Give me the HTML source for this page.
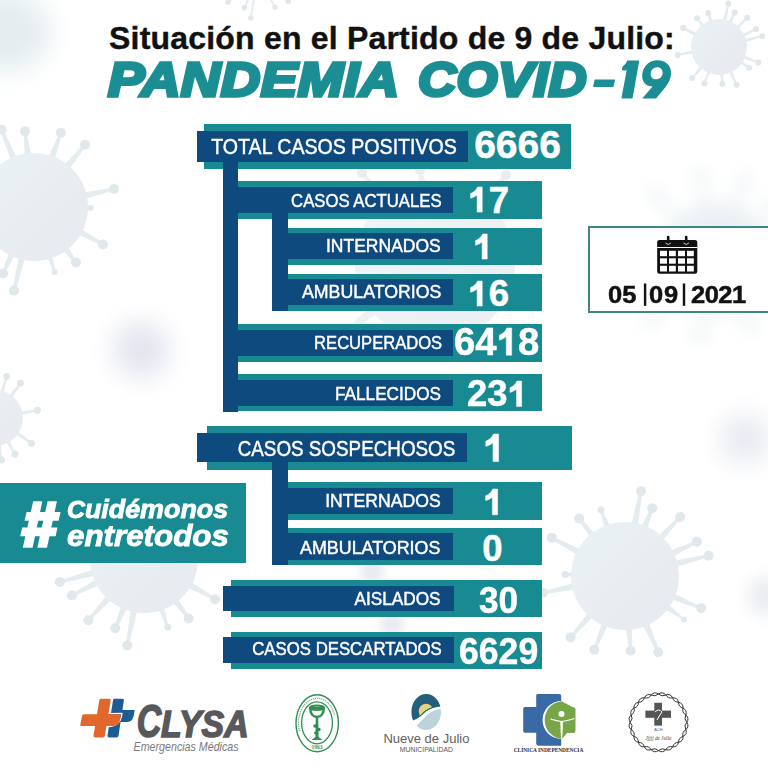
<!DOCTYPE html>
<html><head><meta charset="utf-8">
<style>

*{margin:0;padding:0;box-sizing:border-box}
html,body{width:768px;height:768px;overflow:hidden;background:#fff}
body{position:relative;font-family:"Liberation Sans",sans-serif}
.a{position:absolute;white-space:nowrap}
.t{background:#188a91;position:absolute}
.d{background:#0f4a7f;position:absolute}
.lb{position:absolute;color:#fff;white-space:nowrap;text-align:right;-webkit-text-stroke:0.45px #fff;transform-origin:100% 50%}
.n{position:absolute;color:#fff;white-space:nowrap;font-weight:bold;-webkit-text-stroke:0.5px #fff}
.o{display:inline-block;width:0.556em;height:0.688em;vertical-align:baseline}
.o svg{display:block;width:100%;height:100%;overflow:visible}
svg.abs{position:absolute;left:0;top:0}
.t2{top:51px;font-size:49px;line-height:56px;font-weight:bold;font-style:italic;color:#1a8e93;letter-spacing:0.45px;-webkit-text-stroke:3.5px #1a8e93;transform-origin:0 50%}
.hs{font-weight:bold;font-style:italic;color:#fff;-webkit-text-stroke:0.9px #fff;transform-origin:0 50%}
.dt{font-size:24.5px;line-height:24.5px;font-weight:bold;color:#111;-webkit-text-stroke:0.5px #111;top:283.16px;transform-origin:0 50%;transform:scaleX(1.04)}

</style></head><body>
<!-- BG -->
<svg class="abs" width="768" height="768" viewBox="0 0 768 768">
<defs><filter id="bl8" x="-1" y="-1" width="3" height="3"><feGaussianBlur stdDeviation="9"/></filter><filter id="bl12" x="-1" y="-1" width="3" height="3"><feGaussianBlur stdDeviation="13"/></filter><filter id="bl4" x="-1" y="-1" width="3" height="3"><feGaussianBlur stdDeviation="4"/></filter><linearGradient id="vg" x1="0" y1="0" x2="1" y2="1"><stop offset="0" stop-color="#eaf2f4"/><stop offset="1" stop-color="#e7e9ef"/></linearGradient><filter id="bl2" x="-1" y="-1" width="3" height="3"><feGaussianBlur stdDeviation="0.7"/></filter></defs>
<ellipse cx="8" cy="32" rx="42" ry="40" fill="#e5edf0" filter="url(#bl12)"/>
<circle cx="141" cy="350" r="28" fill="#e3e5ef" filter="url(#bl12)"/>
<circle cx="745" cy="439" r="24" fill="#e6e9f0" filter="url(#bl12)"/>
<circle cx="372" cy="572" r="12" fill="#e8ebf1" filter="url(#bl4)"/>
<circle cx="392" cy="624" r="12" fill="#e8ebf1" filter="url(#bl4)"/>
<circle cx="766" cy="596" r="18" fill="#e8ebf0" filter="url(#bl8)"/>
<g filter="url(#bl8)" opacity="0.9"><g opacity="1.0">
<polygon fill="#e5ecef" points="685.3,221.7 656.3,193.8 653.7,196.2 680.2,226.6"/>
<circle cx="655.0" cy="195.0" r="6" fill="#e1e8ec"/>
<polygon fill="#e5ecef" points="710.2,211.4 701.8,174.7 698.2,175.3 703.2,212.6"/>
<circle cx="700.0" cy="175.0" r="6" fill="#e1e8ec"/>
<polygon fill="#e5ecef" points="735.1,215.6 746.7,180.6 743.3,179.4 728.4,213.1"/>
<circle cx="745.0" cy="180.0" r="6" fill="#e1e8ec"/>
<polygon fill="#e5ecef" points="752.4,229.7 776.2,206.3 773.8,203.7 747.7,224.4"/>
<circle cx="775.0" cy="205.0" r="6" fill="#e1e8ec"/>
<polygon fill="#e5ecef" points="678.7,287.7 648.8,318.7 651.2,321.3 683.6,292.9"/>
<circle cx="650.0" cy="320.0" r="6" fill="#e1e8ec"/>
<polygon fill="#e5ecef" points="702.6,303.2 698.2,334.7 701.8,335.3 709.6,304.6"/>
<circle cx="700.0" cy="335.0" r="6" fill="#e1e8ec"/>
<polygon fill="#e5ecef" points="733.5,301.1 748.4,325.8 751.6,324.2 739.8,297.8"/>
<circle cx="750.0" cy="325.0" r="6" fill="#e1e8ec"/>
<circle cx="715" cy="258" r="55" fill="url(#vg)"/>
</g></g>
<g opacity="1.0" filter="url(#bl2)">
<polygon fill="#e5ecef" points="32.1,161.0 26.5,131.1 23.5,131.5 25.1,161.8"/>
<circle cx="25.0" cy="131.3" r="5" fill="#e1e8ec"/>
<polygon fill="#e5ecef" points="52.9,165.0 62.3,133.3 59.5,132.3 46.3,162.7"/>
<circle cx="60.9" cy="132.8" r="5" fill="#e1e8ec"/>
<polygon fill="#e5ecef" points="65.8,173.7 86.2,145.7 83.8,143.7 60.4,169.3"/>
<circle cx="85.0" cy="144.7" r="5" fill="#e1e8ec"/>
<polygon fill="#e5ecef" points="79.6,200.3 114.3,190.5 113.7,187.5 78.0,193.5"/>
<circle cx="114.0" cy="189.0" r="5" fill="#e1e8ec"/>
<polygon fill="#e5ecef" points="79.8,211.2 90.6,208.7 90.6,206.9 79.9,204.1"/>
<circle cx="90.6" cy="207.8" r="3" fill="#e1e8ec"/>
<polygon fill="#e5ecef" points="72.7,232.0 102.3,245.7 103.7,243.1 76.0,225.8"/>
<circle cx="103.0" cy="244.4" r="5" fill="#e1e8ec"/>
<polygon fill="#e5ecef" points="58.9,245.7 74.8,263.4 77.2,261.6 64.5,241.5"/>
<circle cx="76.0" cy="262.5" r="5" fill="#e1e8ec"/>
<polygon fill="#e5ecef" points="44.6,251.8 53.8,272.2 55.6,271.6 51.3,249.7"/>
<circle cx="54.7" cy="271.9" r="3" fill="#e1e8ec"/>
<polygon fill="#e5ecef" points="19.9,250.8 12.5,290.3 15.5,290.9 26.7,252.5"/>
<circle cx="14.0" cy="290.6" r="5" fill="#e1e8ec"/>
<polygon fill="#e5ecef" points="11.4,247.1 1.6,272.8 4.4,274.0 17.8,250.1"/>
<circle cx="3.0" cy="273.4" r="5" fill="#e1e8ec"/>
<polygon fill="#e5ecef" points="19.5,163.3 3.0,129.1 0.2,130.3 13.0,166.0"/>
<circle cx="1.6" cy="129.7" r="5" fill="#e1e8ec"/>
<circle cx="34" cy="207" r="54" fill="url(#vg)"/>
</g>
<g opacity="1.0" filter="url(#bl2)">
<polygon fill="#e5ecef" points="725.8,24.1 729.2,3.7 727.4,3.3 722.2,23.3"/>
<circle cx="728.3" cy="3.5" r="3" fill="#e1e8ec"/>
<polygon fill="#e5ecef" points="730.5,26.1 735.5,12.9 733.9,12.1 727.2,24.6"/>
<circle cx="734.7" cy="12.5" r="3" fill="#e1e8ec"/>
<polygon fill="#e5ecef" points="736.8,31.1 747.8,18.3 746.6,17.1 734.2,28.6"/>
<circle cx="747.2" cy="17.7" r="3" fill="#e1e8ec"/>
<polygon fill="#e5ecef" points="741.2,38.3 756.3,30.1 755.5,28.5 739.7,35.1"/>
<circle cx="755.9" cy="29.3" r="3" fill="#e1e8ec"/>
<polygon fill="#e5ecef" points="742.5,43.0 762.4,37.1 762.0,35.3 741.6,39.5"/>
<circle cx="762.2" cy="36.2" r="3" fill="#e1e8ec"/>
<polygon fill="#e5ecef" points="740.5,57.5 758.1,63.4 758.7,61.8 741.8,54.1"/>
<circle cx="758.4" cy="62.6" r="3" fill="#e1e8ec"/>
<polygon fill="#e5ecef" points="737.5,62.0 748.6,68.5 749.6,67.1 739.6,59.0"/>
<circle cx="749.1" cy="67.8" r="3" fill="#e1e8ec"/>
<polygon fill="#e5ecef" points="727.4,69.3 735.8,85.2 737.4,84.4 730.7,67.8"/>
<circle cx="736.6" cy="84.8" r="3" fill="#e1e8ec"/>
<polygon fill="#e5ecef" points="719.4,70.9 721.6,83.9 723.4,83.7 723.1,70.5"/>
<circle cx="722.5" cy="83.8" r="3" fill="#e1e8ec"/>
<polygon fill="#e5ecef" points="708.4,68.4 703.6,83.0 705.2,83.6 711.8,69.8"/>
<circle cx="704.4" cy="83.3" r="3" fill="#e1e8ec"/>
<polygon fill="#e5ecef" points="702.1,63.8 691.6,77.4 693.0,78.6 704.8,66.2"/>
<circle cx="692.3" cy="78.0" r="3" fill="#e1e8ec"/>
<polygon fill="#e5ecef" points="695.3,49.7 677.6,54.0 678.0,55.8 696.0,53.3"/>
<circle cx="677.8" cy="54.9" r="3" fill="#e1e8ec"/>
<polygon fill="#e5ecef" points="698.9,34.2 683.6,27.1 682.8,28.7 697.1,37.4"/>
<circle cx="683.2" cy="27.9" r="3" fill="#e1e8ec"/>
<polygon fill="#e5ecef" points="706.0,27.0 697.8,17.8 696.4,18.8 703.1,29.2"/>
<circle cx="697.1" cy="18.3" r="3" fill="#e1e8ec"/>
<polygon fill="#e5ecef" points="713.6,23.8 709.2,12.8 707.4,13.4 710.1,24.9"/>
<circle cx="708.3" cy="13.1" r="3" fill="#e1e8ec"/>
<circle cx="719" cy="47" r="28" fill="url(#vg)"/>
</g>
<g opacity="1.0" filter="url(#bl2)">
<polygon fill="#e5ecef" points="637.0,531.5 642.5,491.6 639.5,491.0 630.1,530.2"/>
<circle cx="641.0" cy="491.3" r="5" fill="#e1e8ec"/>
<polygon fill="#e5ecef" points="645.3,534.7 653.6,508.8 650.8,507.6 638.8,532.1"/>
<circle cx="652.2" cy="508.2" r="5" fill="#e1e8ec"/>
<polygon fill="#e5ecef" points="658.9,544.9 681.2,518.1 679.0,516.1 653.8,540.1"/>
<circle cx="680.1" cy="517.1" r="5" fill="#e1e8ec"/>
<polygon fill="#e5ecef" points="667.9,559.4 697.4,543.2 696.2,540.4 664.9,553.1"/>
<circle cx="696.8" cy="541.8" r="5" fill="#e1e8ec"/>
<polygon fill="#e5ecef" points="670.4,568.6 709.0,557.2 708.2,554.2 668.8,561.8"/>
<circle cx="708.6" cy="555.7" r="5" fill="#e1e8ec"/>
<polygon fill="#e5ecef" points="665.9,597.1 700.6,609.7 701.8,606.9 668.6,590.7"/>
<circle cx="701.2" cy="608.3" r="5" fill="#e1e8ec"/>
<polygon fill="#e5ecef" points="659.9,606.1 683.5,620.2 684.5,618.8 664.0,600.4"/>
<circle cx="684.0" cy="619.5" r="3" fill="#e1e8ec"/>
<polygon fill="#e5ecef" points="640.1,619.5 656.8,652.8 659.6,651.6 646.6,616.7"/>
<circle cx="658.2" cy="652.2" r="5" fill="#e1e8ec"/>
<polygon fill="#e5ecef" points="624.9,622.0 629.1,650.8 632.1,650.6 631.9,621.5"/>
<circle cx="630.6" cy="650.7" r="5" fill="#e1e8ec"/>
<polygon fill="#e5ecef" points="604.1,617.0 592.9,649.2 595.7,650.4 610.6,619.7"/>
<circle cx="594.3" cy="649.8" r="5" fill="#e1e8ec"/>
<polygon fill="#e5ecef" points="591.9,608.0 569.5,636.4 571.7,638.4 597.2,612.7"/>
<circle cx="570.6" cy="637.4" r="5" fill="#e1e8ec"/>
<polygon fill="#e5ecef" points="579.2,571.3 565.2,573.4 565.2,575.4 579.0,578.3"/>
<circle cx="565.2" cy="574.4" r="3.5" fill="#e1e8ec"/>
<polygon fill="#e5ecef" points="585.9,551.7 552.6,536.6 551.2,539.2 582.7,557.9"/>
<circle cx="551.9" cy="537.9" r="5" fill="#e1e8ec"/>
<polygon fill="#e5ecef" points="599.1,537.9 580.4,517.7 578.0,519.5 593.6,542.3"/>
<circle cx="579.2" cy="518.6" r="5" fill="#e1e8ec"/>
<polygon fill="#e5ecef" points="612.6,531.7 601.9,509.3 599.9,510.1 606.0,534.1"/>
<circle cx="600.9" cy="509.7" r="3.5" fill="#e1e8ec"/>
<polygon fill="#e5ecef" points="579.3,581.8 542.7,591.3 543.3,594.3 580.7,588.7"/>
<circle cx="543.0" cy="592.8" r="5" fill="#e1e8ec"/>
<circle cx="625" cy="576" r="54" fill="url(#vg)"/>
</g>
<g opacity="1.0" filter="url(#bl2)">
<polygon fill="#e5ecef" points="98.8,567.7 59.5,580.5 60.3,583.3 100.6,574.4"/>
<circle cx="59.9" cy="581.9" r="5" fill="#e1e8ec"/>
<polygon fill="#e5ecef" points="101.4,576.6 71.2,594.1 72.6,596.7 104.6,582.8"/>
<circle cx="71.9" cy="595.4" r="5" fill="#e1e8ec"/>
<polygon fill="#e5ecef" points="110.5,590.6 87.2,619.3 89.4,621.3 115.7,595.3"/>
<circle cx="88.3" cy="620.3" r="5" fill="#e1e8ec"/>
<polygon fill="#e5ecef" points="123.2,600.1 113.9,627.7 116.7,628.9 129.7,602.8"/>
<circle cx="115.3" cy="628.3" r="5" fill="#e1e8ec"/>
<polygon fill="#e5ecef" points="131.8,603.4 125.8,645.1 128.8,645.7 138.7,604.7"/>
<circle cx="127.3" cy="645.4" r="5" fill="#e1e8ec"/>
<polygon fill="#e5ecef" points="155.8,603.5 166.7,627.2 168.7,626.6 162.4,601.2"/>
<circle cx="167.7" cy="626.9" r="3.5" fill="#e1e8ec"/>
<polygon fill="#e5ecef" points="168.8,597.8 187.5,619.4 189.9,617.6 174.4,593.6"/>
<circle cx="188.7" cy="618.5" r="5" fill="#e1e8ec"/>
<polygon fill="#e5ecef" points="182.2,584.7 214.3,600.6 215.7,598.0 185.7,578.6"/>
<circle cx="215.0" cy="599.3" r="5" fill="#e1e8ec"/>
<circle cx="144" cy="559" r="54" fill="url(#vg)"/>
</g>
<g opacity="1.0" filter="url(#bl2)">
<polygon fill="#e5ecef" points="3.1,395.6 7.6,376.7 5.6,376.1 -0.4,394.6"/>
<circle cx="6.6" cy="376.4" r="3.5" fill="#e1e8ec"/>
<polygon fill="#e5ecef" points="10.5,399.9 21.2,383.9 19.6,382.7 7.6,397.7"/>
<circle cx="20.4" cy="383.3" r="3.5" fill="#e1e8ec"/>
<polygon fill="#e5ecef" points="18.7,415.5 37.6,411.2 37.2,409.2 18.1,411.9"/>
<circle cx="37.4" cy="410.2" r="3.5" fill="#e1e8ec"/>
<polygon fill="#e5ecef" points="13.5,433.0 30.8,444.1 32.0,442.3 15.6,430.1"/>
<circle cx="31.4" cy="443.2" r="3.5" fill="#e1e8ec"/>
<polygon fill="#e5ecef" points="4.9,439.7 14.1,454.7 15.9,453.7 8.1,438.0"/>
<circle cx="15.0" cy="454.2" r="3.5" fill="#e1e8ec"/>
<polygon fill="#e5ecef" points="-3.2,441.8 0.5,460.2 2.5,459.8 0.4,441.2"/>
<circle cx="1.5" cy="460.0" r="3.5" fill="#e1e8ec"/>
<circle cx="-5" cy="418" r="28" fill="url(#vg)"/>
</g>
<g opacity="0.75" filter="url(#bl2)">
<polygon fill="#e5ecef" points="395.9,206.1 363.2,172.0 360.8,174.0 387.9,212.7"/>
<circle cx="362.0" cy="173.0" r="5" fill="#e1e8ec"/>
<polygon fill="#e5ecef" points="482.0,212.6 507.2,175.9 504.8,174.1 474.0,206.0"/>
<circle cx="506.0" cy="175.0" r="5" fill="#e1e8ec"/>
<polygon fill="#e5ecef" points="368.7,245.9 300.2,238.5 299.8,241.5 367.0,256.2"/>
<circle cx="300.0" cy="240.0" r="5" fill="#e1e8ec"/>
<polygon fill="#e5ecef" points="378.4,300.1 329.1,343.8 330.9,346.2 384.9,308.2"/>
<circle cx="330.0" cy="345.0" r="5" fill="#e1e8ec"/>
<polygon fill="#e5ecef" points="429.2,194.0 421.5,169.8 418.5,170.2 418.9,195.7"/>
<circle cx="420.0" cy="170.0" r="5" fill="#e1e8ec"/>
<circle cx="435" cy="262" r="80" fill="url(#vg)"/>
</g>
<g opacity="1.0" filter="url(#bl2)">
<polygon fill="#e5ecef" points="244.4,-13.7 227.5,1.7 228.5,2.9 246.0,-11.9"/>
<circle cx="228.0" cy="2.3" r="2.6" fill="#e1e8ec"/>
<polygon fill="#e5ecef" points="250.2,-8.8 243.7,7.5 245.3,8.1 252.5,-7.9"/>
<circle cx="244.5" cy="7.8" r="2.8" fill="#e1e8ec"/>
<polygon fill="#e5ecef" points="253.9,-7.5 250.0,17.9 251.6,18.1 256.4,-7.0"/>
<circle cx="250.8" cy="18.0" r="2.8" fill="#e1e8ec"/>
<polygon fill="#e5ecef" points="265.1,-8.5 274.3,7.4 275.7,6.6 267.3,-9.7"/>
<circle cx="275.0" cy="7.0" r="2.6" fill="#e1e8ec"/>
<polygon fill="#e5ecef" points="270.3,-12.2 287.8,1.8 288.8,0.6 271.9,-14.1"/>
<circle cx="288.3" cy="1.2" r="2.8" fill="#e1e8ec"/>
<circle cx="258" cy="-24" r="20" fill="url(#vg)"/>
</g>
</svg>

<!-- Title -->
<div class="a" id="t1" style="left:109px;top:18px;font-size:32px;line-height:40px;font-weight:bold;color:#111;letter-spacing:0.2px;-webkit-text-stroke:0.4px #111">Situación en el Partido de 9 de Julio:</div>
<div class="a t2" id="t2" style="left:108px;transform:scaleX(1.115)">PANDEMIA</div>
<div class="a t2" id="t2b" style="left:418px;transform:scaleX(1.074)">COVID</div>
<svg class="abs" width="768" height="768" viewBox="0 0 768 768">
 <g fill="#1a8e93">
  <path d="M595.2,79.5 L614.4,79.5 Q615.2,79.5 615,80.5 L613.7,86 Q613.5,86.9 612.6,86.9 L594,86.9 Q593,86.9 593.2,86 L594.4,80.4 Q594.6,79.5 595.2,79.5 Z"/>
  <path d="M627.6,60.6 L638.3,60.6 Q639.3,60.6 639.1,61.6 L632.7,97.4 Q632.5,98.4 631.5,98.4 L622.4,98.4 Q621.3,98.4 621.5,97.4 L626.7,70.3 L623.4,70.6 Q621.7,70.6 622,69 L622.3,67.5 Q622.6,66 624,65.3 Q626.2,63.5 626.8,61.5 Q627,60.6 627.6,60.6 Z"/>
  <path fill-rule="evenodd" d="M657.5,60.3 C666,60.3 671.8,66 671,74.5 C670.6,79 668.6,83.2 665.2,87.4 L656,98.4 L642.2,98.4 L652.6,86.4 C645.8,86.8 641.6,81.6 642.2,74.6 C643,66.4 649.2,60.3 657.5,60.3 Z M657.3,67.2 C653.6,67.2 650.9,70 650.7,73.4 C650.5,77 652.7,79.2 656,79.2 C659.7,79.2 662.4,76.6 662.6,73.2 C662.8,69.7 660.6,67.2 657.3,67.2 Z"/>
 </g>
</svg>

<!-- ROWS -->
<div class="t" style="left:204px;top:124px;width:367.00px;height:44.50px"></div>
<div class="d" style="left:197px;top:131px;width:271.00px;height:30.50px"></div>
<div class="d" style="left:223px;top:161px;width:15.00px;height:250.50px"></div>
<div class="t" style="left:238px;top:181px;width:304.00px;height:38.00px"></div>
<div class="d" style="left:223px;top:187px;width:230.00px;height:26.00px"></div>
<div class="d" style="left:272px;top:213px;width:16.00px;height:97.60px"></div>
<div class="t" style="left:288px;top:227.5px;width:254.00px;height:37.25px"></div>
<div class="d" style="left:272px;top:233px;width:181.00px;height:26.20px"></div>
<div class="t" style="left:288px;top:273.75px;width:254.00px;height:36.85px"></div>
<div class="d" style="left:272px;top:279.2px;width:181.00px;height:25.80px"></div>
<div class="t" style="left:238px;top:324px;width:304.00px;height:38.00px"></div>
<div class="d" style="left:223px;top:330px;width:230.00px;height:25.60px"></div>
<div class="t" style="left:238px;top:374.4px;width:304.00px;height:37.10px"></div>
<div class="d" style="left:223px;top:380.25px;width:230.00px;height:25.35px"></div>
<div class="t" style="left:207px;top:426.3px;width:364.60px;height:43.30px"></div>
<div class="d" style="left:197px;top:432.8px;width:269.50px;height:29.70px"></div>
<div class="d" style="left:272px;top:462px;width:16.00px;height:103.25px"></div>
<div class="t" style="left:288px;top:482.2px;width:254.00px;height:37.50px"></div>
<div class="d" style="left:272px;top:488px;width:181.40px;height:25.60px"></div>
<div class="t" style="left:288px;top:528px;width:254.00px;height:37.25px"></div>
<div class="d" style="left:272px;top:533px;width:181.40px;height:27.00px"></div>
<div class="t" style="left:230.6px;top:580.25px;width:311.40px;height:36.85px"></div>
<div class="d" style="left:223px;top:585.6px;width:230.70px;height:25.90px"></div>
<div class="t" style="left:230.6px;top:632px;width:311.40px;height:36.50px"></div>
<div class="d" style="left:223px;top:637.25px;width:230.70px;height:25.50px"></div>
<div class="lb" id="lb0" style="right:311.00px;top:136.18px;font-size:22px;line-height:22px;transform:scaleX(0.8905)">TOTAL CASOS POSITIVOS</div>
<div class="lb" id="lb1" style="right:326.75px;top:192.89px;font-size:17.5px;line-height:17.5px;transform:scaleX(0.9549)">CASOS ACTUALES</div>
<div class="lb" id="lb2" style="right:327.00px;top:238.49px;font-size:17.5px;line-height:17.5px;transform:scaleX(1.0001)">INTERNADOS</div>
<div class="lb" id="lb3" style="right:327.00px;top:284.29px;font-size:17.5px;line-height:17.5px;transform:scaleX(1.0148)">AMBULATORIOS</div>
<div class="lb" id="lb4" style="right:326.30px;top:334.99px;font-size:17.5px;line-height:17.5px;transform:scaleX(0.9474)">RECUPERADOS</div>
<div class="lb" id="lb5" style="right:327.00px;top:385.59px;font-size:17.5px;line-height:17.5px;transform:scaleX(0.9810)">FALLECIDOS</div>
<div class="lb" id="lb6" style="right:312.40px;top:437.78px;font-size:22px;line-height:22px;transform:scaleX(0.8558)">CASOS SOSPECHOSOS</div>
<div class="lb" id="lb7" style="right:327.40px;top:493.19px;font-size:17.5px;line-height:17.5px;transform:scaleX(1.0072)">INTERNADOS</div>
<div class="lb" id="lb8" style="right:327.40px;top:539.99px;font-size:17.5px;line-height:17.5px;transform:scaleX(1.0221)">AMBULATORIOS</div>
<div class="lb" id="lb9" style="right:327.40px;top:591.19px;font-size:17.5px;line-height:17.5px;transform:scaleX(0.9840)">AISLADOS</div>
<div class="lb" id="lb10" style="right:326.00px;top:641.39px;font-size:17.5px;line-height:17.5px;transform:scaleX(0.9582)">CASOS DESCARTADOS</div>
<div class="n" id="n0" style="left:474.16px;top:125.39px;font-size:39px;line-height:39px;transform-origin:1.44px 50%;transform:scaleX(1.0)">6666</div>
<div class="n" id="n1" style="left:468.44px;top:182.50px;font-size:36.5px;line-height:36.5px;transform-origin:2.56px 50%;transform:scaleX(1.0)"><span class="o"><svg viewBox="0 -688 556 688"><path transform="scale(1,-1)" d="M390,0 L250,0 L250,470 C195,425 135,398 70,380 L70,508 C150,535 228,600 262,688 L390,688 Z" fill="#fff" stroke="#fff" stroke-width="14"/></svg></span>7</div>
<div class="n" id="n2" style="left:472.94px;top:229.00px;font-size:36.5px;line-height:36.5px;transform-origin:2.56px 50%;transform:scaleX(1.0)"><span class="o"><svg viewBox="0 -688 556 688"><path transform="scale(1,-1)" d="M390,0 L250,0 L250,470 C195,425 135,398 70,380 L70,508 C150,535 228,600 262,688 L390,688 Z" fill="#fff" stroke="#fff" stroke-width="14"/></svg></span></div>
<div class="n" id="n3" style="left:468.44px;top:276.00px;font-size:36.5px;line-height:36.5px;transform-origin:2.56px 50%;transform:scaleX(1.0)"><span class="o"><svg viewBox="0 -688 556 688"><path transform="scale(1,-1)" d="M390,0 L250,0 L250,470 C195,425 135,398 70,380 L70,508 C150,535 228,600 262,688 L390,688 Z" fill="#fff" stroke="#fff" stroke-width="14"/></svg></span>6</div>
<div class="n" id="n4" style="left:453.94px;top:322.36px;font-size:39.5px;line-height:39.5px;transform-origin:1.46px 50%;transform:scaleX(0.97)">64<span class="o"><svg viewBox="0 -688 556 688"><path transform="scale(1,-1)" d="M390,0 L250,0 L250,470 C195,425 135,398 70,380 L70,508 C150,535 228,600 262,688 L390,688 Z" fill="#fff" stroke="#fff" stroke-width="14"/></svg></span>8</div>
<div class="n" id="n5" style="left:467.31px;top:375.28px;font-size:37px;line-height:37px;transform-origin:1.30px 50%;transform:scaleX(0.985)">23<span class="o"><svg viewBox="0 -688 556 688"><path transform="scale(1,-1)" d="M390,0 L250,0 L250,470 C195,425 135,398 70,380 L70,508 C150,535 228,600 262,688 L390,688 Z" fill="#fff" stroke="#fff" stroke-width="14"/></svg></span></div>
<div class="n" id="n6" style="left:482.80px;top:427.84px;font-size:40px;line-height:40px;transform-origin:2.80px 50%;transform:scaleX(1.0)"><span class="o"><svg viewBox="0 -688 556 688"><path transform="scale(1,-1)" d="M390,0 L250,0 L250,470 C195,425 135,398 70,380 L70,508 C150,535 228,600 262,688 L390,688 Z" fill="#fff" stroke="#fff" stroke-width="14"/></svg></span></div>
<div class="n" id="n7" style="left:483.38px;top:483.96px;font-size:37.5px;line-height:37.5px;transform-origin:2.63px 50%;transform:scaleX(1.0)"><span class="o"><svg viewBox="0 -688 556 688"><path transform="scale(1,-1)" d="M390,0 L250,0 L250,470 C195,425 135,398 70,380 L70,508 C150,535 228,600 262,688 L390,688 Z" fill="#fff" stroke="#fff" stroke-width="14"/></svg></span></div>
<div class="n" id="n8" style="left:482.24px;top:530.50px;font-size:36.5px;line-height:36.5px;transform-origin:1.46px 50%;transform:scaleX(1.0)">0</div>
<div class="n" id="n9" style="left:478.55px;top:581.88px;font-size:37px;line-height:37px;transform-origin:0.85px 50%;transform:scaleX(0.95)">30</div>
<div class="n" id="n10" style="left:458.75px;top:634.10px;font-size:36.5px;line-height:36.5px;transform-origin:1.35px 50%;transform:scaleX(0.975)">6629</div>

<!-- Date box -->
<div class="a" style="left:588px;top:226px;width:200px;height:87px;border:2px solid #3f8782;background:#fff"></div>
<svg class="abs" width="768" height="768" viewBox="0 0 768 768">
 <g fill="#111">
  <path d="M659.5,240 H695 Q697.3,240 697.3,242.3 V271.4 Q697.3,273.7 695,273.7 H659.5 Q657.2,273.7 657.2,271.4 V242.3 Q657.2,240 659.5,240 Z"/>
  <rect x="666.9" y="235.8" width="2.6" height="8" rx="1.2"/>
  <rect x="684.9" y="235.8" width="2.6" height="8" rx="1.2"/>
 </g>
 <g fill="#fff">
  <rect x="657.2" y="247" width="40.1" height="1"/>
  <rect x="660" y="250.8" width="7" height="5.4"/><rect x="669" y="250.8" width="6.8" height="5.4"/><rect x="678" y="250.8" width="7" height="5.4"/><rect x="687" y="250.8" width="6.8" height="5.4"/>
  <rect x="660" y="258.3" width="7" height="5.4"/><rect x="669" y="258.3" width="6.8" height="5.4"/><rect x="678" y="258.3" width="7" height="5.4"/><rect x="687" y="258.3" width="6.8" height="5.4"/>
  <rect x="660" y="265.8" width="7" height="5.7"/><rect x="669" y="265.8" width="6.8" height="5.7"/><rect x="678" y="265.8" width="7" height="5.7"/><rect x="687" y="265.8" width="6.8" height="5.7"/>
 </g>
 <g fill="none" stroke="#fff" stroke-width="0.8">
  <path d="M665.5,243 Q668.2,246 670.9,243"/>
  <path d="M683.5,243 Q686.2,246 688.9,243"/>
 </g>
 <rect x="643.9" y="283.5" width="2.4" height="22.3" fill="#111"/>
 <rect x="682.8" y="283.5" width="2.4" height="22.3" fill="#111"/>
</svg>
<div class="a dt" style="left:607.82px">05</div>
<div class="a dt" style="left:649.42px;letter-spacing:0.9px">09</div>
<div class="a dt" style="left:690.94px;letter-spacing:-0.5px">2021</div>

<!-- Hashtag box -->
<div class="a" style="left:0;top:483px;width:246.2px;height:80.2px;background:#188a91"></div>
<svg class="abs" width="768" height="768" viewBox="0 0 768 768">
 <g fill="#fff">
  <polygon points="33.2,501.3 42.3,501.3 32.6,547.7 22.8,547.7"/>
  <polygon points="47.6,501.3 56.9,501.3 47.0,547.7 37.3,547.7"/>
  <polygon points="26.6,512 60.6,512 58.6,520.8 24.5,520.8"/>
  <polygon points="22.2,527.6 57.5,527.6 55.6,536.3 20.2,536.3"/>
 </g>
</svg>
<div class="a hs" id="h1" style="left:66.5px;top:497.20px;font-size:25.4px;line-height:25.4px;transform:scaleX(1.057)"><span style="font-size:23.5px">C</span>uidémonos</div>
<div class="a hs" id="h2" style="left:67px;top:522.35px;font-size:29px;line-height:29px;transform:scaleX(1.08)">entretodos</div>

<!-- Logos -->
<svg class="abs" width="768" height="768" viewBox="0 0 768 768">
<g>
<path fill="#e2672c" d="M100.5,698.7 L109.5,698.7 Q111,698.7 110.7,700.2 L104.9,735.6 Q104.6,737.4 103,737.4 L95,737.4 Q93.2,737.4 93.5,735.6 L99.3,700.2 Q99.5,698.7 100.5,698.7 Z"/>
<path fill="#e2672c" d="M84,714.2 L121.5,714.2 L119.8,722 Q118.5,726 114,726 L81.5,726 Q80,726 80.3,724.5 L82,716 Q82.4,714.2 84,714.2 Z"/>
<path fill="#1d5b94" d="M114,698.7 L122.6,698.7 Q124.2,698.7 123.9,700.3 L118.5,735.8 Q118.2,737.4 116.6,737.4 L109,737.4 Q107.2,737.4 107.5,735.6 L113,700.2 Q113.2,698.7 114,698.7 Z"/>
<path fill="#1d5b94" d="M118,710 L134.8,710 L133.5,716.5 Q132.2,722 126.5,722 L116,722 Z"/>
<path fill="none" stroke="#fff" stroke-width="1.3" d="M111,713.6 L122.5,713.3 M121.9,714 Q120.5,726.5 108,726.7"/>
<path fill="#e2672c" d="M108,714.2 L121.2,714.2 L119.6,721.6 Q118.4,725.9 113.5,726 L106,726 Z"/>
</g>
<text x="136.5" y="737.4" font-family="Liberation Sans" font-weight="bold" font-style="italic" fill="#59595b" stroke="#59595b" stroke-width="1.6" font-size="46" transform="translate(137.3,0) scale(0.74,1) translate(-137.3,0)">C</text>
<text x="161" y="737.4" font-family="Liberation Sans" font-weight="bold" font-style="italic" fill="#59595b" stroke="#59595b" stroke-width="1.6" font-size="36" textLength="87.5" lengthAdjust="spacingAndGlyphs">LYSA</text>
<text x="133.6" y="750.9" font-family="Liberation Sans" font-style="italic" fill="#7a7a7c" font-size="13" textLength="105" lengthAdjust="spacingAndGlyphs">Emergencias Médicas</text>
<ellipse cx="317.2" cy="723.2" rx="21.2" ry="28.5" fill="none" stroke="#2f8f52" stroke-width="1.4"/>
<ellipse cx="317" cy="722.8" rx="15.4" ry="21" fill="none" stroke="#2f8f52" stroke-width="1.3"/>
<path d="M299.5,731 A18.3,24.5 0 0 1 334.5,715" fill="none" stroke="#2f8f52" stroke-width="1.1" stroke-dasharray="1.2 0.9" opacity="0.8"/>
<text x="317" y="749" font-family="Liberation Serif" font-weight="bold" font-size="5.5" fill="#2f8f52" text-anchor="middle">1963</text>
<path fill="none" stroke="#2f8f52" stroke-width="2.4" d="M310.2,708 Q310.2,716.5 317,717 Q323.8,716.5 323.8,708 Z"/>
<ellipse cx="317" cy="707.8" rx="6.8" ry="2.3" fill="none" stroke="#2f8f52" stroke-width="1.8"/>
<path fill="#2f8f52" d="M315.8,717 L318.2,717 L318.6,737 L322.5,740 L311.5,740 L315.4,737 Z"/>
<circle cx="315" cy="726" r="1.8" fill="#2f8f52"/><circle cx="319" cy="729.5" r="1.7" fill="#2f8f52"/><circle cx="315.5" cy="733" r="1.4" fill="#2f8f52"/>
<defs><clipPath id="ndj"><ellipse cx="426.2" cy="712" rx="14.8" ry="17.9"/></clipPath></defs>
<g clip-path="url(#ndj)">
<rect x="410" y="692" width="33" height="40" fill="#fff"/>
<path fill="#245f7d" d="M410,692 H443 V706.3 Q431,706.5 424.5,712.8 Q418.5,719 410,721.8 Z"/>
<path fill="#e9d27e" d="M419.6,714.5 A6.3,6.3 0 0 1 432.3,707.6 Q425,709 419.6,716.5 Z"/>
<path fill="none" stroke="#1d7f74" stroke-width="1" d="M419.3,717 Q425,710 433,707.3"/>
<path fill="#bcd3dc" d="M443,708.8 Q433,709 427,715 Q421.5,721 414.5,727.5 L414,733 H443 Z"/>
</g>
<text x="383.4" y="742.8" font-family="Liberation Sans" font-size="12.6" fill="#606062" textLength="86" lengthAdjust="spacingAndGlyphs">Nueve de Julio</text>
<text x="399.8" y="752.2" font-family="Liberation Sans" font-size="6.8" fill="#555" textLength="53.2" lengthAdjust="spacingAndGlyphs">MUNICIPALIDAD</text>
<path fill="#3a6aa3" d="M537.5,694 L559,694 Q561.2,694 561.2,696 L561.2,707 L561.2,745.8 L538.5,745.8 Q536.2,745.8 536.2,743.5 L536.2,732.7 L525,732.7 Q523.2,732.7 523.2,730.7 L523.2,709 Q523.2,707 525,707 L536.2,707 L536.2,695.5 Q536.2,694 537.5,694 Z"/>
<circle cx="561.5" cy="720" r="19" fill="#fff"/>
<path fill="#3a6aa3" d="M561.5,694 L561.5,697.5 A22.5,22.5 0 0 0 561.5,742.5 L561.5,745.8 Z" opacity="0"/>
<path fill="#78a548" d="M562,701.5 L572.5,707 Q575.5,707 575.5,709.5 L575.5,730.5 Q575.5,733 573,733 L567,733 L562.5,738.6 A17.5,18.5 0 0 1 562,701.5 Z"/>
<path fill="#78a548" d="M562,701.5 A17.5,18.6 0 0 0 562.5,738.6 Z"/>
<circle cx="561.5" cy="714" r="3" fill="#fff"/>
<path fill="none" stroke="#fff" stroke-width="1.2" d="M550.5,719 Q557,721 561.5,721.5 Q567,721 574.5,718.5"/>
<path fill="#fff" d="M560.2,721 L563,721 L562.3,738.5 L561,738.5 Z"/>
<text x="513.7" y="751.6" font-family="Liberation Serif" font-weight="bold" font-size="6.6" fill="#1f2a40" textLength="69.6" lengthAdjust="spacingAndGlyphs">CLÍNICA  INDEPENDENCIA</text>
<path d="M686.80,722.30 Q689.53,726.39 685.84,729.62 Q683.58,725.60 686.80,722.30 Z" fill="none" stroke="#333" stroke-width="1.0"/>
<path d="M685.84,729.62 Q687.42,734.28 683.01,736.45 Q681.87,731.98 685.84,729.62 Z" fill="none" stroke="#333" stroke-width="1.0"/>
<path d="M683.01,736.45 Q683.33,741.35 678.51,742.31 Q678.57,737.70 683.01,736.45 Z" fill="none" stroke="#333" stroke-width="1.0"/>
<path d="M678.51,742.31 Q677.55,747.13 672.65,746.81 Q673.90,742.37 678.51,742.31 Z" fill="none" stroke="#333" stroke-width="1.0"/>
<path d="M672.65,746.81 Q670.48,751.22 665.82,749.64 Q668.18,745.67 672.65,746.81 Z" fill="none" stroke="#333" stroke-width="1.0"/>
<path d="M665.82,749.64 Q662.59,753.33 658.50,750.60 Q661.80,747.38 665.82,749.64 Z" fill="none" stroke="#333" stroke-width="1.0"/>
<path d="M658.50,750.60 Q654.41,753.33 651.18,749.64 Q655.20,747.38 658.50,750.60 Z" fill="none" stroke="#333" stroke-width="1.0"/>
<path d="M651.18,749.64 Q646.52,751.22 644.35,746.81 Q648.82,745.67 651.18,749.64 Z" fill="none" stroke="#333" stroke-width="1.0"/>
<path d="M644.35,746.81 Q639.45,747.13 638.49,742.31 Q643.10,742.37 644.35,746.81 Z" fill="none" stroke="#333" stroke-width="1.0"/>
<path d="M638.49,742.31 Q633.67,741.35 633.99,736.45 Q638.43,737.70 638.49,742.31 Z" fill="none" stroke="#333" stroke-width="1.0"/>
<path d="M633.99,736.45 Q629.58,734.28 631.16,729.62 Q635.13,731.98 633.99,736.45 Z" fill="none" stroke="#333" stroke-width="1.0"/>
<path d="M631.16,729.62 Q627.47,726.39 630.20,722.30 Q633.42,725.60 631.16,729.62 Z" fill="none" stroke="#333" stroke-width="1.0"/>
<path d="M630.20,722.30 Q627.47,718.21 631.16,714.98 Q633.42,719.00 630.20,722.30 Z" fill="none" stroke="#333" stroke-width="1.0"/>
<path d="M631.16,714.98 Q629.58,710.32 633.99,708.15 Q635.13,712.62 631.16,714.98 Z" fill="none" stroke="#333" stroke-width="1.0"/>
<path d="M633.99,708.15 Q633.67,703.25 638.49,702.29 Q638.43,706.90 633.99,708.15 Z" fill="none" stroke="#333" stroke-width="1.0"/>
<path d="M638.49,702.29 Q639.45,697.47 644.35,697.79 Q643.10,702.23 638.49,702.29 Z" fill="none" stroke="#333" stroke-width="1.0"/>
<path d="M644.35,697.79 Q646.52,693.38 651.18,694.96 Q648.82,698.93 644.35,697.79 Z" fill="none" stroke="#333" stroke-width="1.0"/>
<path d="M651.18,694.96 Q654.41,691.27 658.50,694.00 Q655.20,697.22 651.18,694.96 Z" fill="none" stroke="#333" stroke-width="1.0"/>
<path d="M658.50,694.00 Q662.59,691.27 665.82,694.96 Q661.80,697.22 658.50,694.00 Z" fill="none" stroke="#333" stroke-width="1.0"/>
<path d="M665.82,694.96 Q670.48,693.38 672.65,697.79 Q668.18,698.93 665.82,694.96 Z" fill="none" stroke="#333" stroke-width="1.0"/>
<path d="M672.65,697.79 Q677.55,697.47 678.51,702.29 Q673.90,702.23 672.65,697.79 Z" fill="none" stroke="#333" stroke-width="1.0"/>
<path d="M678.51,702.29 Q683.33,703.25 683.01,708.15 Q678.57,706.90 678.51,702.29 Z" fill="none" stroke="#333" stroke-width="1.0"/>
<path d="M683.01,708.15 Q687.42,710.32 685.84,714.98 Q681.87,712.62 683.01,708.15 Z" fill="none" stroke="#333" stroke-width="1.0"/>
<path d="M685.84,714.98 Q689.53,718.21 686.80,722.30 Q683.58,719.00 685.84,714.98 Z" fill="none" stroke="#333" stroke-width="1.0"/>
<rect x="654.3" y="702.8" width="7.7" height="22.8" fill="#555"/>
<rect x="645.4" y="710.6" width="25.6" height="7.2" fill="#555"/>
<path d="M655,712 Q659,708 662,712 Q659,716 657,720" fill="none" stroke="#fff" stroke-width="1"/>
<text x="658.5" y="731" font-family="Liberation Sans" font-size="4" fill="#555" text-anchor="middle">ACH</text>
<text x="658.5" y="739.5" font-family="Liberation Serif" font-style="italic" font-size="5.2" fill="#444" text-anchor="middle">Jjjjj de Julio</text>
</svg>
</body></html>
